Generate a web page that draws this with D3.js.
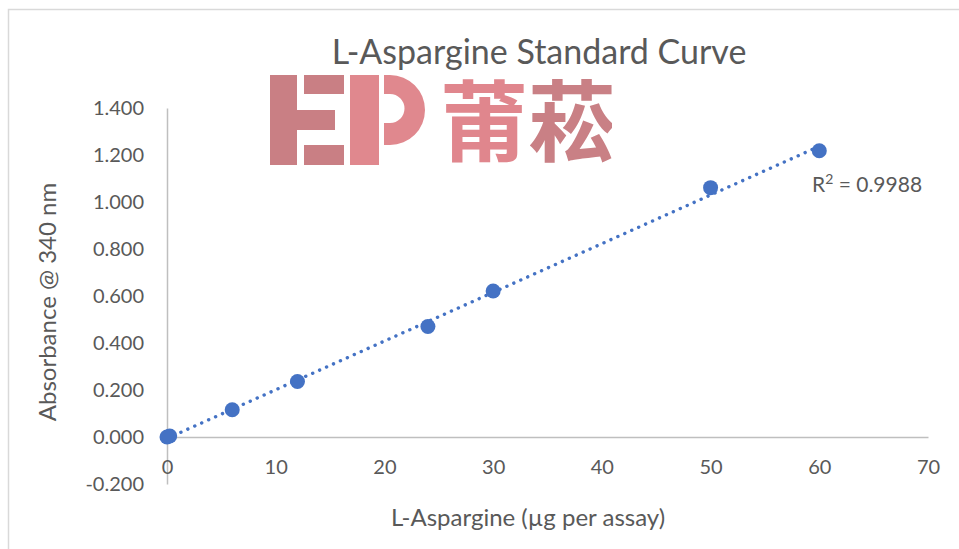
<!DOCTYPE html>
<html>
<head>
  <meta charset="utf-8">
  <title>L-Aspargine Standard Curve</title>
  <script src="https://cdn.jsdelivr.net/npm/d3@7"></script>
  <style>
    body { margin: 0; background: #fff; }
    text { font-family: Lato, "Open Sans", sans-serif; fill: #595959; }
  </style>
</head>
<body>
  <div class="chart-container"></div>
  <script>
    // data
    var amounts = [0, 0.25, 6, 12, 24, 30, 50, 60];          // µg per assay
    var absorbance = [0.000, 0.004, 0.116, 0.236, 0.470, 0.621, 1.061, 1.218];
    var xTicks = [0, 10, 20, 30, 40, 50, 60, 70];
    var yTicks = [-0.2, 0, 0.2, 0.4, 0.6, 0.8, 1.0, 1.2, 1.4];
    var titleText = 'L-Aspargine Standard Curve';
    var xTitle = 'L-Aspargine (µg per assay)';
    var yTitle = 'Absorbance @ 340 nm';
    var r2Value = '0.9988';

    var width = 959, height = 549;
    var blue = '#4472c4';
    var axisColor = '#bfbfbf';

    var svg = d3.select('.chart-container').append('svg')
      .attr('width', width)
      .attr('height', height);

    // chart area border
    svg.append('rect')
      .attr('x', 8.5).attr('y', 9.5)
      .attr('width', 1000).attr('height', 1000)
      .style('fill', '#fff')
      .style('stroke', '#d9d9d9')
      .style('stroke-width', 1.5);

    var x = d3.scaleLinear().domain([0, 70]).range([167, 928]);
    var y = d3.scaleLinear().domain([-0.2, 1.4]).range([484, 108]);

    svg.append('text')
      .attr('x', 539).attr('y', 64)
      .attr('text-anchor', 'middle')
      .style('font-size', '34px')
      .text(titleText);

    var fmt3 = d3.format('.3f');

    // y axis
    var yAxis = d3.axisLeft(y)
      .tickValues(yTicks)
      .tickSize(0)
      .tickPadding(23)
      .tickFormat(function (d) { return fmt3(d).replace('−', '-'); });
    var gy = svg.append('g')
      .attr('transform', 'translate(' + x(0) + ',0)')
      .call(yAxis);
    gy.select('.domain').style('stroke', axisColor).style('stroke-width', 1.5);
    gy.selectAll('text').style('font-size', '20px').style('fill', '#595959')
      .style('font-family', 'Lato, sans-serif');

    // x axis, labels sit below the plot
    var xAxis = d3.axisBottom(x)
      .tickValues(xTicks)
      .tickSize(0)
      .tickPadding(23)
      .tickFormat(d3.format('d'));
    var gx = svg.append('g')
      .attr('transform', 'translate(0,' + y(0) + ')')
      .call(xAxis);
    gx.select('.domain').style('stroke', axisColor).style('stroke-width', 1.5);
    gx.selectAll('text').style('font-size', '20px').style('fill', '#595959')
      .style('font-family', 'Lato, sans-serif');

    // axis titles
    svg.append('text')
      .attr('transform', 'translate(56,' + 302 + ') rotate(-90)')
      .attr('text-anchor', 'middle')
      .style('font-size', '24px')
      .text(yTitle);
    svg.append('text')
      .attr('x', 528).attr('y', 526)
      .attr('text-anchor', 'middle')
      .style('font-size', '24px')
      .text(xTitle);

    // linear trendline (least squares)
    var mx = d3.mean(amounts), my = d3.mean(absorbance);
    var sxy = d3.sum(amounts, function (d, i) { return (d - mx) * (absorbance[i] - my); });
    var sxx = d3.sum(amounts, function (d) { return (d - mx) * (d - mx); });
    var slope = sxy / sxx, intercept = my - slope * mx;
    var trend = d3.extent(amounts).map(function (v) { return [v, intercept + slope * v]; });

    svg.append('path')
      .attr('d', d3.line().x(function (d) { return x(d[0]); }).y(function (d) { return y(d[1]); })(trend))
      .style('fill', 'none')
      .style('stroke', blue)
      .style('stroke-width', 3.4)
      .style('stroke-linecap', 'round')
      .style('stroke-dasharray', '0.1 7.5');

    svg.selectAll('circle.pt').data(amounts).enter()
      .append('circle')
      .attr('class', 'pt')
      .attr('cx', function (d) { return x(d); })
      .attr('cy', function (d, i) { return y(absorbance[i]); })
      .attr('r', 7.5)
      .style('fill', blue);

    var r2 = svg.append('text')
      .attr('x', 812).attr('y', 192)
      .style('font-size', '21px');
    r2.append('tspan').text('R');
    r2.append('tspan').attr('dy', -8).style('font-size', '14px').text('2');
    r2.append('tspan').attr('dy', 8).text(' = ' + r2Value);

    // watermark logo
    var logo = svg.append('g').attr('transform', 'translate(270,75)');
    logo.append('clipPath').attr('id', 'logo-clip')
      .append('rect').attr('width', 342).attr('height', 90);
    logo.append('rect').attr('width', 342).attr('height', 90).style('fill', '#fff');
    var eParts = [[0, 0, 27, 90], [34, 0, 40, 19], [27, 35, 38, 20], [34, 70, 40, 20]];
    logo.selectAll('rect.e').data(eParts).enter().append('rect')
      .attr('class', 'e')
      .attr('x', function (d) { return d[0]; }).attr('y', function (d) { return d[1]; })
      .attr('width', function (d) { return d[2]; }).attr('height', function (d) { return d[3]; })
      .style('fill', '#c97f84');
    logo.append('rect').attr('x', 80).attr('width', 29).attr('height', 90).style('fill', '#e0888e');
    logo.append('path')
      .attr('d', 'M114,0 L120,0 A35,35 0 0 1 120,70 L114,70 L114,48 L120,48 A13.5,13.5 0 0 0 120,19 L114,19 Z')
      .style('fill', '#e0888e');
    var cjk = logo.append('g').attr('clip-path', 'url(#logo-clip)')
      .append('text')
      .attr('x', 170).attr('y', 79)
      .style('font-family', '"Noto Sans CJK SC", sans-serif')
      .style('font-weight', 'bold')
      .style('font-size', '88px');
    cjk.append('tspan').style('fill', '#e0868d').text('莆');
    cjk.append('tspan').style('fill', '#c98085').text('菘');
  </script>
</body>
</html>
